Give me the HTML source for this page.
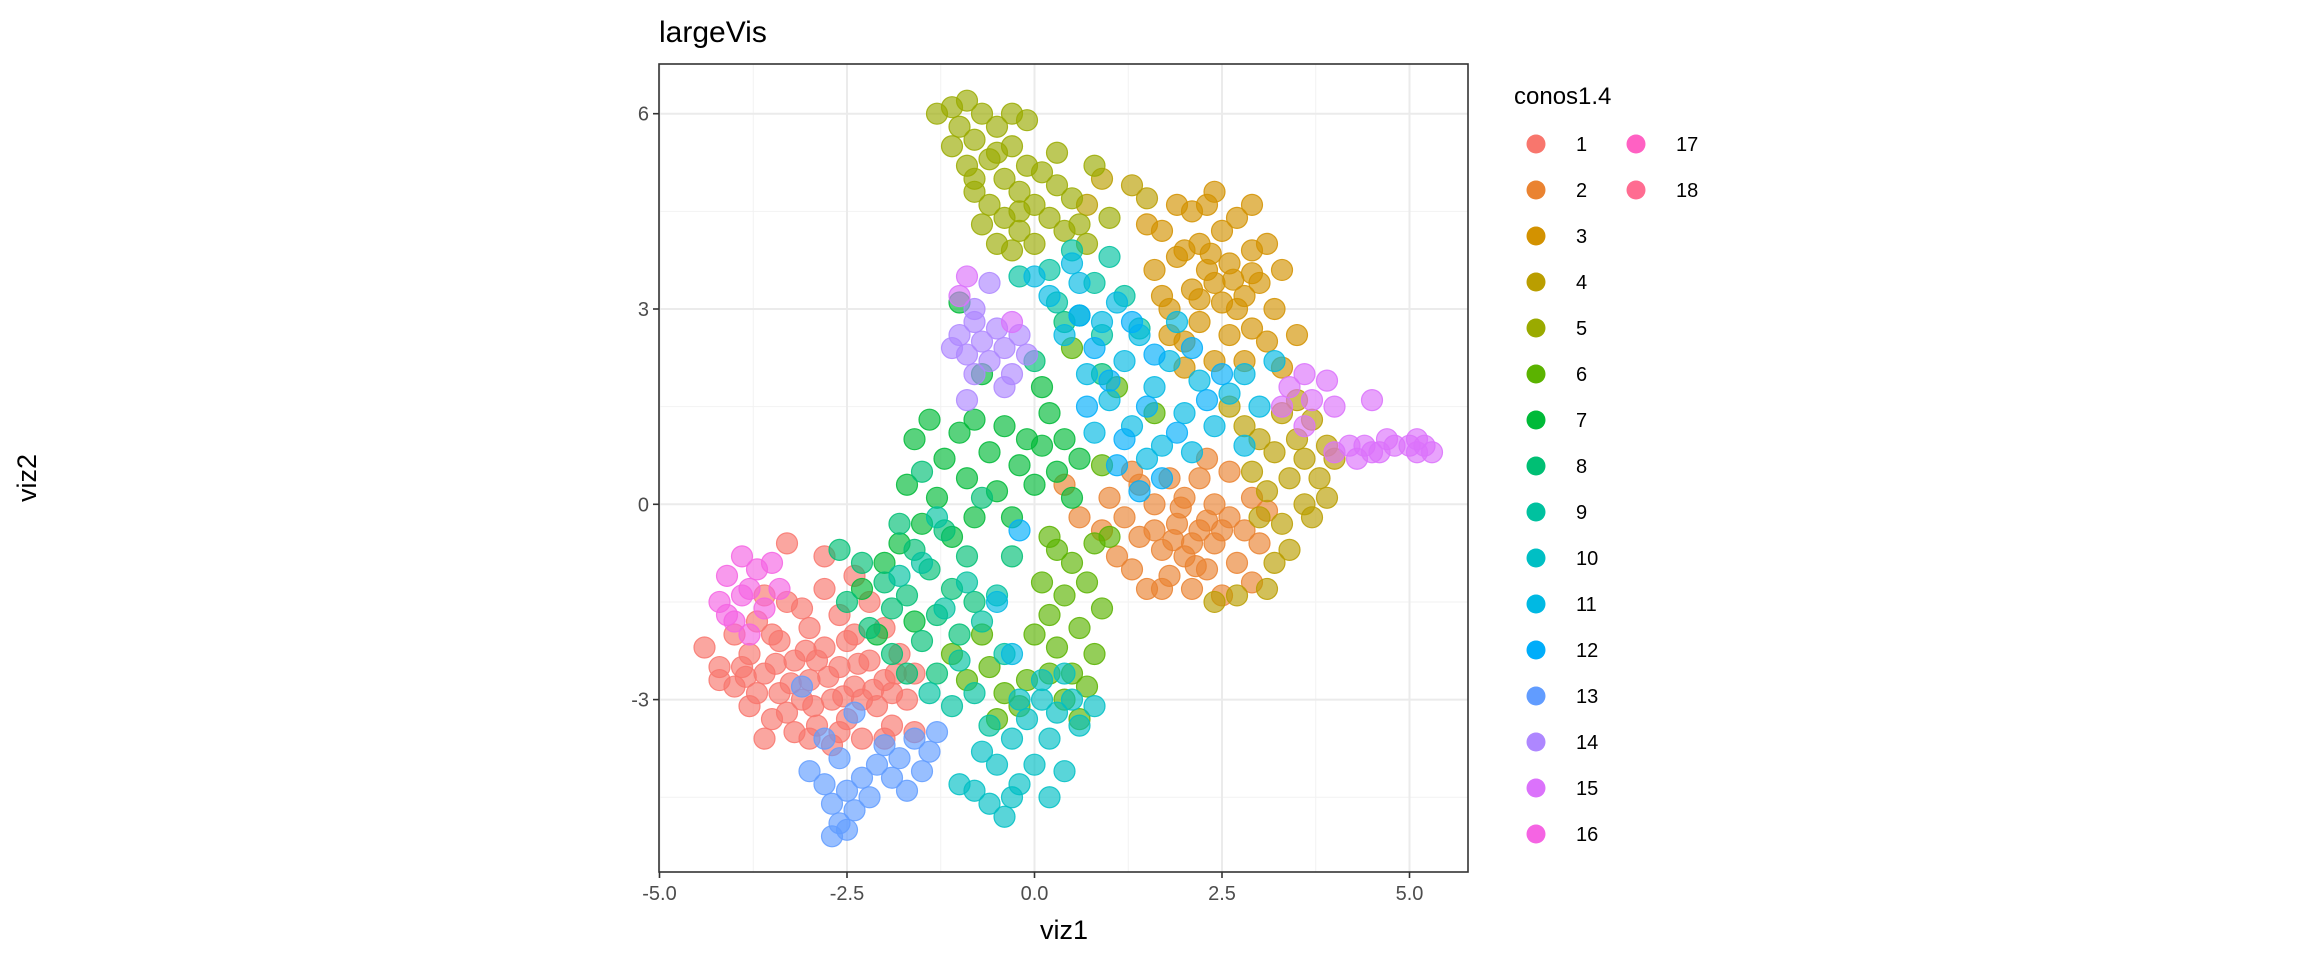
<!DOCTYPE html>
<html><head><meta charset="utf-8"><style>
html,body{margin:0;padding:0;background:#fff;}
svg{display:block;font-family:"Liberation Sans",sans-serif;}
</style></head><body>
<svg id="chart" width="2304" height="960" viewBox="0 0 2304 960" xmlns="http://www.w3.org/2000/svg">
<rect width="2304" height="960" fill="#fff"/>
<text x="659" y="42" font-size="30" fill="#000">largeVis</text>
<g id="grid"></g>
<g id="points"></g>
<rect x="659" y="64" width="809" height="808" fill="none" stroke="#333" stroke-width="1.6"/>
<g id="axes"></g>
<text x="1064" y="939" font-size="27" text-anchor="middle" fill="#000">viz1</text>
<text transform="translate(36,478) rotate(-90)" font-size="27" text-anchor="middle" fill="#000">viz2</text>
<text x="1514" y="104" font-size="24" fill="#000">conos1.4</text>
<g id="legend"></g>
</svg>
<script>
const xTicks=[-5,-2.5,0,2.5,5];
const xTickLabels=["-5.0","-2.5","0.0","2.5","5.0"];
const yTicks=[-3,0,3,6];
const yTickLabels=["-3","0","3","6"];
const clusterLabels=["1","2","3","4","5","6","7","8","9","10","11","12","13","14","15","16","17","18"];
const clusterColors=["#F8766D","#EA8331","#D39200","#BA9E00","#9AAA00","#5BB300","#00BA38","#00BF74","#00C19F","#00BFC4","#00B9E3","#00ADFA","#619CFF","#AE87FF","#DB72FB","#F564E3","#FF61C3","#FF6C91"];
const c1=[[-4.4,-2.2],[-4.2,-2.5],[-4.0,-2.0],[-4.0,-2.8],[-3.8,-2.3],[-3.8,-3.1],[-3.7,-1.8],[-3.6,-2.6],[-3.5,-3.3],[-3.4,-2.1],[-3.4,-2.9],[-3.3,-1.5],[-3.2,-2.4],[-3.2,-3.5],[-3.1,-3.0],[-3.0,-1.9],[-3.0,-2.7],[-2.9,-3.4],[-2.8,-2.2],[-2.8,-1.3],[-2.7,-3.0],[-2.7,-3.7],[-2.6,-2.5],[-2.6,-1.7],[-2.5,-3.3],[-2.4,-2.8],[-2.4,-2.0],[-2.3,-3.6],[-2.2,-2.4],[-2.2,-1.5],[-2.1,-3.1],[-2.0,-2.7],[-2.0,-1.9],[-1.9,-3.4],[-1.8,-2.3],[-1.7,-3.0],[-1.6,-2.6],[-1.6,-3.5],[-3.6,-1.4],[-3.9,-2.5],[-3.5,-2.0],[-3.1,-1.6],[-2.9,-2.4],[-2.5,-2.1],[-2.3,-3.0],[-1.9,-2.9],[-3.3,-3.2],[-3.0,-3.6],[-2.6,-3.5],[-2.0,-3.6],[-3.6,-3.6],[-4.2,-2.7],[-3.7,-2.9],[-2.8,-0.8],[-3.3,-0.6],[-2.4,-1.1],[-3.45,-2.45],[-3.05,-2.25],[-2.75,-2.65],[-2.35,-2.45],[-2.15,-2.85],[-3.85,-2.65],[-3.25,-2.75],[-2.55,-2.95],[-1.85,-2.6],[-2.95,-3.1]];
const c2=[[0.9,-0.4],[1.0,0.1],[1.1,-0.8],[1.2,-0.2],[1.3,-1.0],[1.4,0.3],[1.4,-0.5],[1.5,-1.3],[1.6,0.0],[1.7,-0.7],[1.8,0.4],[1.8,-1.1],[1.9,-0.3],[2.0,0.1],[2.0,-0.8],[2.1,-1.3],[2.2,-0.4],[2.2,0.4],[2.3,-1.0],[2.4,0.0],[2.4,-0.6],[2.5,-1.4],[2.6,-0.2],[2.6,0.5],[2.7,-0.9],[2.8,-0.4],[2.9,0.1],[2.9,-1.2],[3.0,-0.6],[3.1,-0.1],[1.6,-0.4],[2.1,-0.6],[2.5,-0.4],[1.3,0.5],[0.6,-0.2],[0.4,0.3],[2.3,0.7],[1.7,-1.3],[1.95,-0.05],[2.3,-0.25],[1.85,-0.55],[2.15,-0.95]];
const c3=[[1.6,3.6],[1.7,4.2],[1.8,3.0],[1.9,4.6],[1.9,3.8],[2.0,2.5],[2.1,3.3],[2.2,4.0],[2.2,2.8],[2.3,4.6],[2.3,3.6],[2.4,2.2],[2.5,3.1],[2.5,4.2],[2.6,2.6],[2.6,3.7],[2.7,4.4],[2.8,3.2],[2.8,2.2],[2.9,3.9],[2.9,2.7],[3.0,3.4],[3.1,2.5],[3.1,4.0],[3.2,3.0],[3.3,2.1],[3.3,3.6],[2.0,3.9],[2.4,3.4],[2.7,3.0],[2.1,4.5],[1.8,2.6],[3.5,2.6],[1.5,4.3],[2.4,4.8],[2.9,4.6],[2.0,2.1],[1.7,3.2],[2.35,3.85],[2.65,3.45],[2.2,3.15],[2.9,3.55]];
const c4=[[2.9,0.5],[3.0,1.0],[3.1,0.2],[3.2,0.8],[3.3,1.4],[3.3,-0.3],[3.4,0.4],[3.5,1.0],[3.6,0.0],[3.6,0.7],[3.7,1.3],[3.8,0.4],[3.9,0.9],[3.9,0.1],[3.2,-0.9],[3.1,-1.3],[2.7,-1.4],[2.4,-1.5],[3.4,-0.7],[2.8,1.2],[3.5,1.6],[2.6,1.5],[3.0,-0.2],[3.7,-0.2],[4.0,0.7],[1.3,4.9],[0.9,5.0],[0.7,4.6],[1.5,4.7]];
const c5=[[-1.3,6.0],[-1.1,6.1],[-1.0,5.8],[-0.9,6.2],[-0.8,5.6],[-0.7,6.0],[-0.6,5.3],[-0.5,5.8],[-0.4,5.0],[-0.3,5.5],[-0.2,4.8],[-0.1,5.2],[0.0,4.6],[0.1,5.1],[0.2,4.4],[0.3,4.9],[0.4,4.2],[0.5,4.7],[0.6,4.3],[0.7,4.0],[-0.8,4.8],[-0.7,4.3],[-0.6,4.6],[-0.5,4.0],[-0.4,4.4],[-0.3,3.9],[-0.2,4.2],[0.0,4.0],[-0.9,5.2],[-1.1,5.5],[-0.8,5.0],[-0.3,6.0],[-0.1,5.9],[0.8,5.2],[1.0,4.4],[0.3,5.4],[-0.5,5.4],[-0.2,4.5]];
const c6=[[0.1,-1.2],[0.2,-1.7],[0.3,-0.7],[0.3,-2.2],[0.4,-1.4],[0.5,-2.6],[0.5,-0.9],[0.6,-1.9],[0.7,-1.2],[0.7,-2.8],[0.8,-0.6],[0.9,-1.6],[0.4,-3.0],[0.2,-2.6],[0.0,-2.0],[-0.1,-2.7],[-0.2,-3.1],[-0.4,-2.9],[-0.6,-2.5],[-0.9,-2.7],[-0.5,-3.3],[-0.7,-2.0],[-1.1,-2.3],[0.6,-3.3],[1.0,-0.5],[0.8,-2.3],[0.2,-0.5],[0.9,0.6],[1.1,1.8],[1.6,1.4],[0.5,2.4]];
const c7=[[-1.6,1.0],[-1.4,1.3],[-1.2,0.7],[-1.0,1.1],[-0.9,0.4],[-0.8,1.3],[-0.6,0.8],[-0.5,0.2],[-0.4,1.2],[-0.2,0.6],[-0.1,1.0],[0.0,0.3],[0.1,0.9],[0.2,1.4],[0.3,0.5],[0.4,1.0],[0.6,0.7],[-1.3,0.1],[-1.5,-0.3],[-1.7,0.3],[-1.8,-0.6],[-2.0,-0.9],[-2.3,-1.3],[-0.3,-0.2],[0.5,0.1],[-0.8,-0.2],[-1.1,-0.5],[-1.6,-1.8],[-2.1,-2.0],[-0.7,2.0],[0.1,1.8],[-1.0,3.1]];
const c8=[[-2.5,-1.5],[-2.3,-0.9],[-2.2,-1.9],[-2.0,-1.2],[-1.9,-2.3],[-1.8,-0.3],[-1.7,-1.4],[-1.6,-0.7],[-1.5,-2.1],[-1.4,-1.0],[-1.3,-1.7],[-1.2,-0.4],[-1.1,-1.3],[-1.0,-2.0],[-0.9,-0.8],[-0.8,-1.5],[-1.7,-2.6],[-1.3,-2.6],[-0.7,0.1],[-0.3,-0.8],[-1.9,-1.6],[-2.6,-0.7],[-1.5,0.5],[0.4,2.8],[0.0,2.2],[0.9,2.0]];
const c9=[[-1.2,-1.6],[-1.0,-2.4],[-0.9,-1.2],[-0.8,-2.9],[-0.7,-1.8],[-0.6,-3.4],[-0.5,-1.4],[-1.1,-3.1],[-0.4,-2.3],[-1.4,-2.9],[-1.5,-0.9],[-1.3,-0.2],[-1.8,-1.1],[0.2,3.6],[0.5,3.9],[0.8,3.4],[1.0,3.8],[0.3,3.1],[1.2,3.2],[0.6,2.9],[-0.2,3.5],[1.4,2.7],[0.9,2.6]];
const c10=[[-0.8,-4.4],[-0.6,-4.6],[-0.5,-4.0],[-0.4,-4.8],[-0.3,-3.6],[-0.2,-4.3],[-0.1,-3.3],[0.0,-4.0],[0.1,-3.0],[0.2,-3.6],[0.3,-3.2],[0.4,-4.1],[0.5,-3.0],[0.6,-3.4],[-0.3,-4.5],[-0.7,-3.8],[-1.0,-4.3],[-0.2,-3.0],[0.2,-4.5],[0.1,-2.7],[0.4,-2.6],[0.8,-3.1]];
const c11=[[0.2,3.2],[0.4,2.6],[0.6,3.4],[0.7,2.0],[0.9,2.8],[1.0,1.6],[1.1,3.1],[1.2,2.2],[1.3,1.2],[1.4,2.6],[1.6,1.8],[1.7,0.9],[1.8,2.2],[2.0,1.4],[2.2,1.9],[2.4,1.2],[2.6,1.7],[2.8,2.0],[3.0,1.5],[3.2,2.2],[1.5,0.7],[2.1,0.8],[0.8,1.1],[0.5,3.7],[0.0,3.5],[1.9,2.8],[2.8,0.9],[-0.5,-1.5],[-0.3,-2.3]];
const c12=[[0.8,2.4],[1.0,1.9],[1.2,1.0],[1.3,2.8],[1.5,1.5],[1.6,2.3],[1.7,0.4],[1.9,1.1],[2.1,2.4],[2.3,1.6],[1.1,0.6],[0.7,1.5],[2.5,2.0],[1.4,0.2],[0.6,2.9],[-0.2,-0.4]];
const c13=[[-3.0,-4.1],[-2.8,-4.3],[-2.7,-4.6],[-2.6,-4.9],[-2.5,-5.0],[-2.5,-4.4],[-2.4,-4.7],[-2.3,-4.2],[-2.2,-4.5],[-2.1,-4.0],[-2.0,-3.7],[-1.9,-4.2],[-1.8,-3.9],[-1.7,-4.4],[-1.6,-3.6],[-1.5,-4.1],[-1.4,-3.8],[-1.3,-3.5],[-2.6,-3.9],[-2.8,-3.6],[-3.1,-2.8],[-2.4,-3.2],[-2.7,-5.1]];
const c14=[[-1.0,2.6],[-0.9,2.3],[-0.8,2.8],[-0.8,2.0],[-0.7,2.5],[-0.6,2.2],[-0.5,2.7],[-0.4,2.4],[-0.3,2.0],[-0.2,2.6],[-0.1,2.3],[-1.1,2.4],[-0.9,1.6],[-0.6,3.4],[-0.4,1.8],[-0.8,3.0]];
const c15=[[3.4,1.8],[3.6,2.0],[3.7,1.6],[3.9,1.9],[4.0,1.5],[4.2,0.9],[4.3,0.7],[4.4,0.9],[4.5,0.8],[4.6,0.8],[4.7,1.0],[4.8,0.9],[5.0,0.9],[5.1,0.8],[5.2,0.9],[5.1,1.0],[5.3,0.8],[4.0,0.8],[3.6,1.2],[4.5,1.6],[-1.0,3.2],[-0.9,3.5],[3.3,1.5],[-0.3,2.8]];
const c16=[[-4.2,-1.5],[-4.1,-1.1],[-4.0,-1.8],[-3.9,-0.8],[-3.8,-1.3],[-3.7,-1.0],[-3.6,-1.6],[-3.5,-0.9],[-4.1,-1.7],[-3.9,-1.4],[-3.4,-1.3],[-3.8,-2.0]];
const c17=[];
const c18=[];
const clusterPoints=[c1,c2,c3,c4,c5,c6,c7,c8,c9,c10,c11,c12,c13,c14,c15,c16,c17,c18];

const NS="http://www.w3.org/2000/svg";
const PL=659,PR=1468,PT=64,PB=872;
function sx(v){return 1034.5+v*75.0;}
function sy(v){return 504.3-v*65.1;}
function mk(tag,attrs,parent){const e=document.createElementNS(NS,tag);for(const k in attrs)e.setAttribute(k,attrs[k]);parent.appendChild(e);return e;}
const grid=document.getElementById('grid');
mk('rect',{x:PL,y:PT,width:PR-PL,height:PB-PT,fill:'#fff'},grid);
for(let i=0;i<xTicks.length-1;i++){const m=(xTicks[i]+xTicks[i+1])/2;const l=mk('line',{x1:sx(m),x2:sx(m),y1:PT,y2:PB,stroke:'#f2f2f2','stroke-width':1},grid);

}
for(let i=0;i<yTicks.length-1;i++){const m=(yTicks[i]+yTicks[i+1])/2;const l=mk('line',{x1:PL,x2:PR,y1:sy(m),y2:sy(m),stroke:'#f2f2f2','stroke-width':1},grid);

}
[yTicks[0]-1.5, yTicks[yTicks.length-1]+1.5].forEach(m=>{if(sy(m)>PT&&sy(m)<PB)mk('line',{x1:PL,x2:PR,y1:sy(m),y2:sy(m),stroke:'#f2f2f2','stroke-width':1},grid);});
[xTicks[xTicks.length-1]+1.25].forEach(m=>{if(sx(m)<PR)mk('line',{x1:sx(m),x2:sx(m),y1:PT,y2:PB,stroke:'#f2f2f2','stroke-width':1},grid);});
xTicks.forEach(v=>{const l=mk('line',{x1:sx(v),x2:sx(v),y1:PT,y2:PB,stroke:'#ebebeb','stroke-width':2},grid);

});
yTicks.forEach(v=>{const l=mk('line',{x1:PL,x2:PR,y1:sy(v),y2:sy(v),stroke:'#ebebeb','stroke-width':2},grid);

});
const pts=document.getElementById('points');
clusterPoints.forEach((arr,ci)=>{arr.forEach(p=>{const c=mk('circle',{cx:sx(p[0]),cy:sy(p[1]),r:10.5,fill:clusterColors[ci],'fill-opacity':0.65,stroke:clusterColors[ci],'stroke-opacity':0.85,'stroke-width':1.2},pts);

});});
const axes=document.getElementById('axes');
xTicks.forEach((v,i)=>{mk('line',{x1:sx(v),x2:sx(v),y1:PB,y2:PB+6,stroke:'#333','stroke-width':1.6},axes);
const t=mk('text',{x:sx(v),y:PB+28,'font-size':20,'text-anchor':'middle',fill:'#4d4d4d'},axes);t.textContent=xTickLabels[i];

});
yTicks.forEach((v,i)=>{mk('line',{x1:PL-6,x2:PL,y1:sy(v),y2:sy(v),stroke:'#333','stroke-width':1.6},axes);
const t=mk('text',{x:PL-10,y:sy(v)+7,'font-size':20,'text-anchor':'end',fill:'#4d4d4d'},axes);t.textContent=yTickLabels[i];

});
const leg=document.getElementById('legend');
clusterLabels.forEach((lab,i)=>{const col=i<16?0:1;const row=i<16?i:i-16;const kx=col?1636:1536;const ky=144+row*46;
const g=mk('g',{},leg);


mk('circle',{cx:kx,cy:ky,r:9.5,fill:clusterColors[i]},g);
const t=mk('text',{x:kx+40,y:ky+7,'font-size':20,fill:'#000'},g);t.textContent=lab;});
</script>
</body></html>
